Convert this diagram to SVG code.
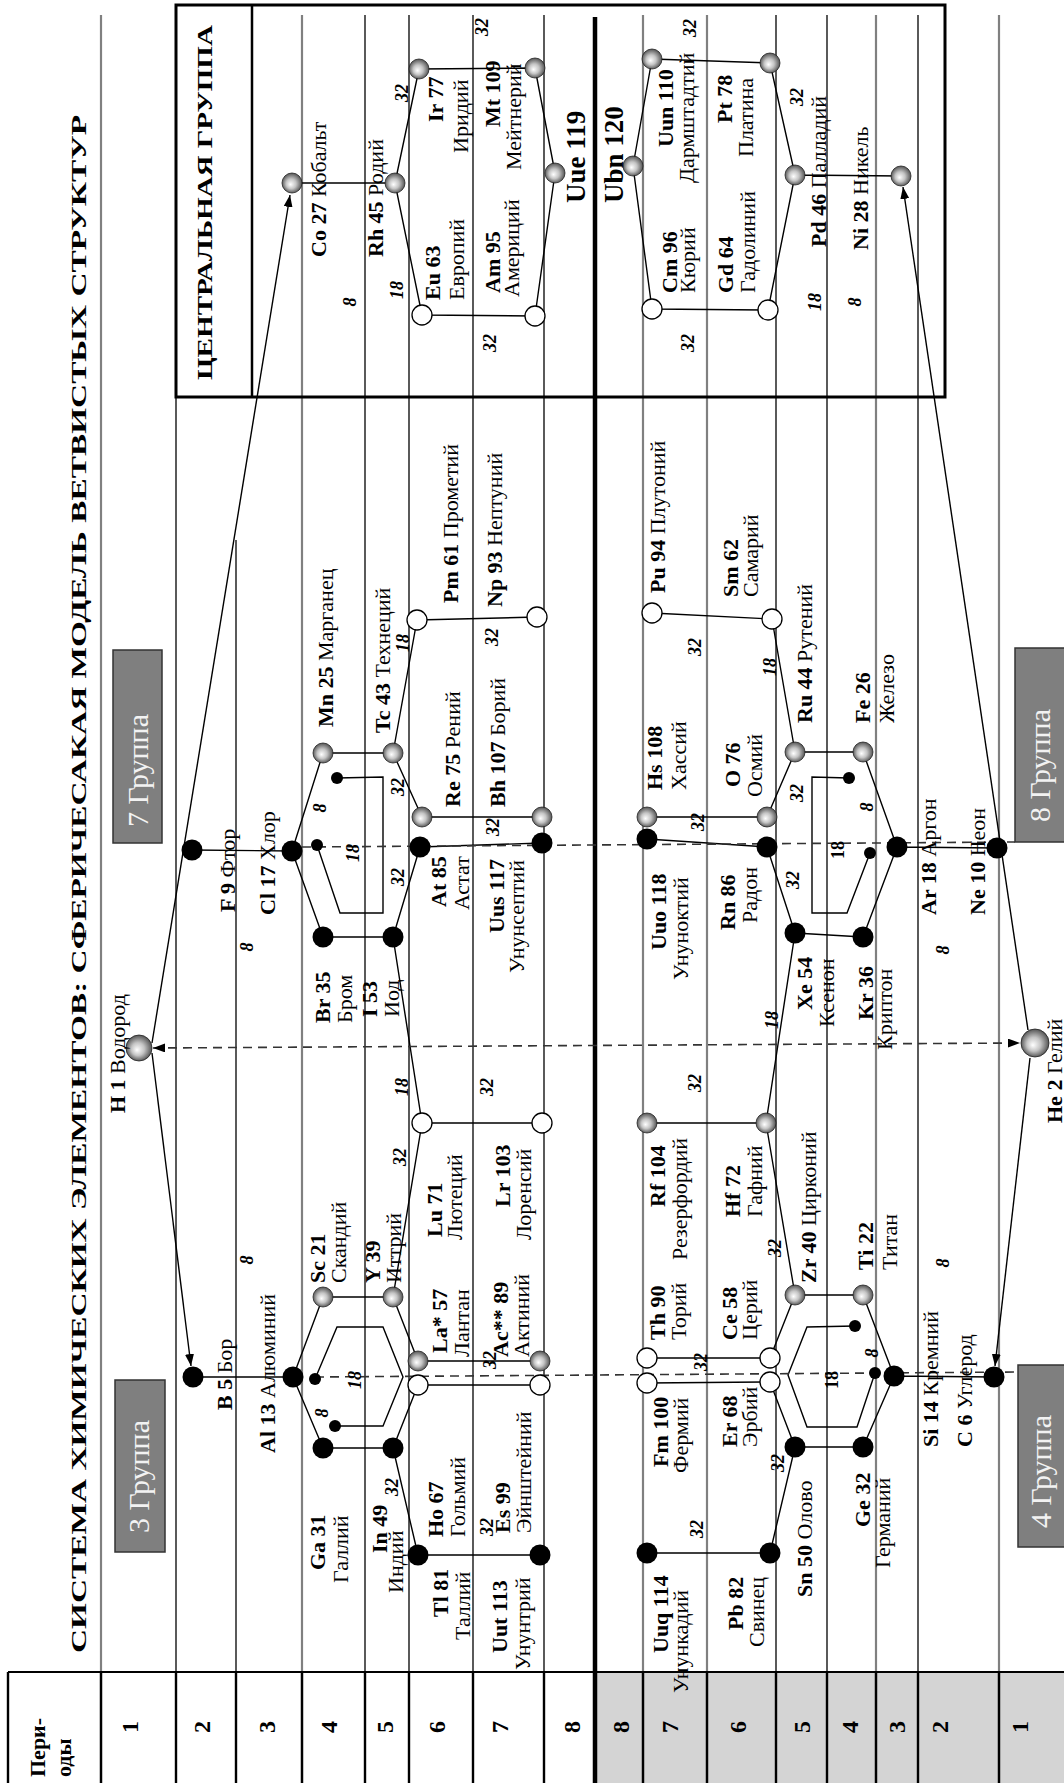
<svg xmlns="http://www.w3.org/2000/svg" width="1064" height="1783" viewBox="0 0 1064 1783">
<defs>
<radialGradient id="sph" cx="0.5" cy="0.5" r="0.55" fx="0.42" fy="0.42">
<stop offset="0" stop-color="#ffffff"/><stop offset="0.45" stop-color="#c4c4c4"/><stop offset="1" stop-color="#404040"/>
</radialGradient>
<marker id="ah" viewBox="0 0 12 9" refX="12" refY="4.5" markerWidth="12" markerHeight="9" markerUnits="userSpaceOnUse" orient="auto-start-reverse"><path d="M0,0 L12,4.5 L0,9 z" fill="#000"/></marker>
<style>
.gl{stroke:#808080;stroke-width:2.2}
.bl{stroke:#000;stroke-width:1.3}
.tl{stroke:#000;stroke-width:2.4}
.c{stroke:#000;stroke-width:1.4;fill:none}
.d{stroke:#333;stroke-width:1.6;stroke-dasharray:9 6;fill:none}
.sg{fill:url(#sph);stroke:#222;stroke-width:0.8}
.sw{fill:#fff;stroke:#000;stroke-width:1.3}
.sb{fill:#000}
.t{font-family:"Liberation Serif","Times New Roman",serif;font-size:22px;fill:#000}
.b{font-weight:bold}
.big{font-size:27px;font-weight:bold}
.n{font-family:"Liberation Serif",serif;font-size:18px;font-weight:bold;font-style:italic;text-anchor:middle}
.nu{font-style:normal}
.p{font-family:"Liberation Serif",serif;font-size:24px;font-weight:bold;text-anchor:middle}
.grp{font-family:"Liberation Serif",serif;font-size:30px;fill:#f2f2f2}
.gb{fill:#7f7f7f;stroke:#333;stroke-width:1.5}
</style>
</defs>
<rect width="1064" height="1783" fill="#fff"/>
<g transform="matrix(0,-1,1,0,0,1783)">
<rect x="0" y="595" width="111" height="469" fill="#d4d4d4"/>
<g id="grid">
<line class="gl" x1="0" y1="101" x2="1768" y2="101"/>
<line class="bl" x1="0" y1="176" x2="1768" y2="176"/>
<line class="bl" x1="0" y1="236" x2="1243" y2="236"/>
<line class="gl" x1="0" y1="302" x2="1768" y2="302"/>
<line class="bl" x1="0" y1="365" x2="1768" y2="365"/>
<line class="bl" x1="0" y1="409" x2="1768" y2="409"/>
<line class="bl" x1="0" y1="473" x2="1768" y2="473"/>
<line class="bl" x1="0" y1="544" x2="1768" y2="544"/>
<line stroke="#000" stroke-width="4.5" x1="0" y1="595" x2="1766" y2="595"/>
<line class="gl" x1="0" y1="643" x2="1768" y2="643"/>
<line class="gl" x1="0" y1="707" x2="1768" y2="707"/>
<line class="bl" x1="0" y1="776" x2="1768" y2="776"/>
<line class="bl" x1="0" y1="827" x2="1768" y2="827"/>
<line class="gl" x1="0" y1="876" x2="1768" y2="876"/>
<line class="bl" x1="0" y1="918" x2="1768" y2="918"/>
<line class="gl" x1="0" y1="999" x2="1768" y2="999"/>
<path class="tl" d="M0,8H111M0,101H111M0,176H111M0,236H111M0,302H111M0,365H111M0,409H111M0,473H111M0,544H111M0,643H111M0,707H111M0,776H111M0,827H111M0,876H111M0,918H111M0,999H111"/>
<line stroke="#000" stroke-width="2" x1="111" y1="8" x2="111" y2="1064"/>
<rect x="1386" y="176" width="392" height="769" fill="none" stroke="#000" stroke-width="3"/>
<line stroke="#000" stroke-width="2.5" x1="1386" y1="252" x2="1778" y2="252"/>
</g>
<g id="table-labels">
<text class="t b" font-size="27" x="6" y="45">Пери-</text>
<text class="t b" font-size="27" x="6" y="71">оды</text>
<text class="p" x="56" y="138">1</text>
<text class="p" x="56" y="210">2</text>
<text class="p" x="56" y="275">3</text>
<text class="p" x="56" y="337">4</text>
<text class="p" x="56" y="393">5</text>
<text class="p" x="56" y="445">6</text>
<text class="p" x="56" y="508">7</text>
<text class="p" x="56" y="580">8</text>
<text class="p" x="56" y="629">8</text>
<text class="p" x="56" y="678">7</text>
<text class="p" x="56" y="746">6</text>
<text class="p" x="56" y="810">5</text>
<text class="p" x="56" y="858">4</text>
<text class="p" x="56" y="905">3</text>
<text class="p" x="56" y="948">2</text>
<text class="p" x="56" y="1028">1</text>
</g>
<text id="title" class="t b" font-size="33" x="130" y="86" textLength="1538" lengthAdjust="spacingAndGlyphs">СИСТЕМА ХИМИЧЕСКИХ ЭЛЕМЕНТОВ: СФЕРИЧЕСАКАЯ МОДЕЛЬ ВЕТВИСТЫХ СТРУКТУР</text>
<text id="central-title" class="t b" font-size="27" x="1403" y="212" textLength="355" lengthAdjust="spacingAndGlyphs">ЦЕНТРАЛЬНАЯ ГРУППА</text>
<g id="group7-box"><rect class="gb" x="940" y="113" width="193" height="49"/><text class="grp" x="956" y="148">7 Группа</text></g>
<g id="group3-box"><rect class="gb" x="231" y="115" width="172" height="50"/><text class="grp" x="250" y="149">3 Группа</text></g>
<g id="group8-box"><rect class="gb" x="941" y="1015" width="194" height="60"/><text class="grp" x="961" y="1050">8 Группа</text></g>
<g id="group4-box"><rect class="gb" x="236" y="1018" width="182" height="60"/><text class="grp" x="255" y="1051">4 Группа</text></g>
<g id="inner-shapes">
<polyline class="c" fill="#fff" points="938,317 870,340 870,383 1006,383 1005,337"/>
<polyline class="c" fill="#fff" points="1005,849 1006,812 870,812 870,847 930,870"/>
<polyline class="c" fill="#fff" points="404,315 456,337 456,383 406,403 357,383 357,335"/>
<polyline class="c" fill="#fff" points="457,855 456,807 408,788 356,807 356,857 410,875"/>
</g>
<g id="connectors">
<path class="c" d="M1600,292L1600,395M1600,395L1714,419M1600,395L1468,422M1714,419L1715,535M1468,422L1467,535M1715,535L1610,555M1467,535L1610,555M1617,633L1724,652M1617,633L1474,652M1724,652L1720,770M1474,652L1473,768M1720,770L1608,795M1473,768L1608,795M1608,795L1607,901"/>
<path class="c" d="M933,192L932,292M932,292L1030,323M932,292L846,323M1030,323L1030,393M846,323L846,393M1030,393L1163,417M1030,393L966,422M846,393L936,420M846,393L660,422M1163,417L1166,537M966,422L966,542M936,420L940,542"/>
<path class="c" d="M1170,652L1164,772M966,647L966,767M944,647L936,767M1164,772L1031,795M966,767L1031,795M1031,795L1031,863M1031,863L936,897M936,767L850,795M850,795L846,863M846,863L936,897M850,795L660,766M936,897L935,997"/>
<path class="c" d="M406,193L406,293M406,293L486,323M406,293L335,323M486,323L486,393M335,323L335,393M486,393L660,422M486,393L422,418M335,393L398,418M335,393L228,418M660,422L660,542M422,418L422,540M398,418L398,540M228,418L228,540"/>
<path class="c" d="M660,647L660,766M425,647L425,770M400,647L401,770M230,647L230,770M660,766L488,795M488,795L425,770M488,795L488,863M488,863L407,894M336,795L401,770M336,795L230,770M336,795L336,863M336,863L407,894M407,894L406,994"/>
<line class="d" x1="936" y1="302" x2="941" y2="1015"/>
<line class="d" x1="406" y1="315" x2="411" y2="1018"/>
<line class="d" x1="735" y1="153" x2="740" y2="1020" marker-start="url(#ah)" marker-end="url(#ah)"/>
<line class="c" x1="740" y1="152" x2="1588" y2="290" marker-end="url(#ah)"/>
<line class="c" x1="730" y1="152" x2="417" y2="191" marker-end="url(#ah)"/>
<line class="c" x1="753" y1="1028" x2="1596" y2="903" marker-end="url(#ah)"/>
<line class="c" x1="725" y1="1030" x2="417" y2="995" marker-end="url(#ah)"/>
</g>
<g id="H1"><circle class="sg" cx="735" cy="139" r="13"/><text class="t" x="670" y="125"><tspan class="b">H 1</tspan> Водород</text></g>
<g id="He2"><circle class="sg" cx="740" cy="1035" r="14"/><text class="t" x="660" y="1062"><tspan class="b">He 2</tspan> Гелий</text></g>
<g id="Co27"><circle class="sg" cx="1600" cy="292" r="10"/><text class="t" x="1526" y="326"><tspan class="b">Co 27</tspan> Кобальт</text></g>
<g id="Rh45"><circle class="sg" cx="1600" cy="395" r="10"/><text class="t" x="1526" y="383"><tspan class="b">Rh 45</tspan> Родий</text></g>
<g id="Ir77"><circle class="sg" cx="1714" cy="419" r="10"/><text class="t b" x="1661" y="443">Ir 77</text><text class="t" x="1630" y="468">Иридий</text></g>
<g id="Mt109"><circle class="sg" cx="1715" cy="535" r="10"/><text class="t b" x="1656" y="500">Mt 109</text><text class="t" x="1613" y="521">Мейтнерий</text></g>
<g id="Eu63"><circle class="sw" cx="1468" cy="422" r="10"/><text class="t b" x="1483" y="440">Eu 63</text><text class="t" x="1483" y="464">Европий</text></g>
<g id="Am95"><circle class="sw" cx="1467" cy="535" r="10"/><text class="t b" x="1490" y="500">Am 95</text><text class="t" x="1486" y="519">Америций</text></g>
<g id="Uue119"><circle class="sg" cx="1610" cy="555" r="10"/><text class="t big" x="1580" y="585">Uue 119</text></g>
<g id="Ubn120"><circle class="sg" cx="1617" cy="633" r="10"/><text class="t big" x="1580" y="623">Ubn 120</text></g>
<g id="Uun110"><circle class="sg" cx="1724" cy="652" r="10"/><text class="t b" x="1636" y="673">Uun 110</text><text class="t" x="1600" y="694">Дармштадтий</text></g>
<g id="Cm96"><circle class="sw" cx="1474" cy="652" r="10"/><text class="t b" x="1490" y="677">Cm 96</text><text class="t" x="1490" y="695">Кюрий</text></g>
<g id="Pt78"><circle class="sg" cx="1720" cy="770" r="10"/><text class="t b" x="1660" y="732">Pt 78</text><text class="t" x="1626" y="753">Платина</text></g>
<g id="Gd64"><circle class="sw" cx="1473" cy="768" r="10"/><text class="t b" x="1490" y="733">Gd 64</text><text class="t" x="1490" y="755">Гадолиний</text></g>
<g id="Pd46"><circle class="sg" cx="1608" cy="795" r="10"/><text class="t" x="1536" y="826"><tspan class="b">Pd 46</tspan> Палладий</text></g>
<g id="Ni28"><circle class="sg" cx="1607" cy="901" r="10"/><text class="t" x="1533" y="868"><tspan class="b">Ni 28</tspan> Никель</text></g>
<g id="F9"><circle class="sb" cx="933" cy="192" r="10.5"/><text class="t" x="871" y="235"><tspan class="b">F 9</tspan> Фтор</text></g>
<g id="Cl17"><circle class="sb" cx="932" cy="292" r="10.5"/><text class="t" x="868" y="275"><tspan class="b">Cl 17</tspan> Хлор</text></g>
<g id="Mn25"><circle class="sg" cx="1030" cy="323" r="10"/><text class="t" x="1056" y="333"><tspan class="b">Mn 25</tspan> Марганец</text></g>
<g id="Br35"><circle class="sb" cx="846" cy="323" r="10.5"/><text class="t b" x="760" y="330">Br 35</text><text class="t" x="760" y="352">Бром</text></g>
<g id="Tc43"><circle class="sg" cx="1030" cy="393" r="10"/><text class="t" x="1050" y="390"><tspan class="b">Tc 43</tspan> Технеций</text></g>
<g id="I53"><circle class="sb" cx="846" cy="393" r="10.5"/><text class="t b" x="766" y="377">I 53</text><text class="t" x="766" y="399">Иод</text></g>
<g id="Pm61"><circle class="sw" cx="1163" cy="417" r="10"/><text class="t" x="1180" y="458"><tspan class="b">Pm 61</tspan> Прометий</text></g>
<g id="Re75"><circle class="sg" cx="966" cy="422" r="10"/><text class="t" x="976" y="460"><tspan class="b">Re 75</tspan> Рений</text></g>
<g id="At85"><circle class="sb" cx="936" cy="420" r="10.5"/><text class="t b" x="876" y="446">At 85</text><text class="t" x="873" y="469">Астат</text></g>
<g id="Np93"><circle class="sw" cx="1166" cy="537" r="10"/><text class="t" x="1176" y="502"><tspan class="b">Np 93</tspan> Нептуний</text></g>
<g id="Bh107"><circle class="sg" cx="966" cy="542" r="10"/><text class="t" x="976" y="505"><tspan class="b">Bh 107</tspan> Борий</text></g>
<g id="Uus117"><circle class="sb" cx="940" cy="542" r="10.5"/><text class="t b" x="850" y="504">Uus 117</text><text class="t" x="810" y="524">Унунсептий</text></g>
<g id="Pu94"><circle class="sw" cx="1170" cy="652" r="10"/><text class="t" x="1190" y="665"><tspan class="b">Pu 94</tspan> Плутоний</text></g>
<g id="Hs108"><circle class="sg" cx="966" cy="647" r="10"/><text class="t b" x="993" y="662">Hs 108</text><text class="t" x="993" y="686">Хассий</text></g>
<g id="Uuo118"><circle class="sb" cx="944" cy="647" r="10.5"/><text class="t b" x="833" y="666">Uuo 118</text><text class="t" x="803" y="688">Унуноктий</text></g>
<g id="Sm62"><circle class="sw" cx="1164" cy="772" r="10"/><text class="t b" x="1186" y="738">Sm 62</text><text class="t" x="1186" y="758">Самарий</text></g>
<g id="O76"><circle class="sg" cx="966" cy="767" r="10"/><text class="t b" x="996" y="740">O 76</text><text class="t" x="986" y="762">Осмий</text></g>
<g id="Rn86"><circle class="sb" cx="936" cy="767" r="10.5"/><text class="t b" x="853" y="735">Rn 86</text><text class="t" x="860" y="757">Радон</text></g>
<g id="Ru44"><circle class="sg" cx="1031" cy="795" r="10"/><text class="t" x="1060" y="812"><tspan class="b">Ru 44</tspan> Рутений</text></g>
<g id="Fe26"><circle class="sg" cx="1031" cy="863" r="10"/><text class="t b" x="1060" y="870">Fe 26</text><text class="t" x="1060" y="894">Железо</text></g>
<g id="Xe54"><circle class="sb" cx="850" cy="795" r="10.5"/><text class="t b" x="773" y="812">Xe 54</text><text class="t" x="756" y="834">Ксенон</text></g>
<g id="Kr36"><circle class="sb" cx="846" cy="863" r="10.5"/><text class="t b" x="763" y="873">Kr 36</text><text class="t" x="733" y="892">Криптон</text></g>
<g id="Ar18"><circle class="sb" cx="936" cy="897" r="10.5"/><text class="t" x="868" y="936"><tspan class="b">Ar 18</tspan> Аргон</text></g>
<g id="Ne10"><circle class="sb" cx="935" cy="997" r="10.5"/><text class="t" x="868" y="985"><tspan class="b">Ne 10</tspan> Неон</text></g>
<g id="B5"><circle class="sb" cx="406" cy="193" r="10.5"/><text class="t" x="373" y="232"><tspan class="b">B 5</tspan> Бор</text></g>
<g id="Al13"><circle class="sb" cx="406" cy="293" r="10.5"/><text class="t" x="330" y="275"><tspan class="b">Al 13</tspan> Алюминий</text></g>
<g id="Sc21"><circle class="sg" cx="486" cy="323" r="10"/><text class="t b" x="500" y="325">Sc 21</text><text class="t" x="500" y="346">Скандий</text></g>
<g id="Ga31"><circle class="sb" cx="335" cy="323" r="10.5"/><text class="t b" x="213" y="325">Ga 31</text><text class="t" x="200" y="348">Галлий</text></g>
<g id="Y39"><circle class="sg" cx="486" cy="393" r="10"/><text class="t b" x="500" y="380">Y 39</text><text class="t" x="500" y="401">Иттрий</text></g>
<g id="In49"><circle class="sb" cx="335" cy="393" r="10.5"/><text class="t b" x="230" y="387">In 49</text><text class="t" x="190" y="403">Индий</text></g>
<g id="Lu71"><circle class="sw" cx="660" cy="422" r="10"/><text class="t b" x="546" y="442">Lu 71</text><text class="t" x="543" y="462">Лютеций</text></g>
<g id="Lr103"><circle class="sw" cx="660" cy="542" r="10"/><text class="t b" x="576" y="510">Lr 103</text><text class="t" x="543" y="531">Лоренсий</text></g>
<g id="La57"><circle class="sg" cx="422" cy="418" r="10"/><text class="t b" x="430" y="447">La* 57</text><text class="t" x="426" y="469">Лантан</text></g>
<g id="Ac89"><circle class="sg" cx="422" cy="540" r="10"/><text class="t b" x="426" y="508">Ac** 89</text><text class="t" x="426" y="529">Актиний</text></g>
<g id="Ho67"><circle class="sw" cx="398" cy="418" r="10"/><text class="t b" x="246" y="443">Ho 67</text><text class="t" x="246" y="465">Гольмий</text></g>
<g id="Es99"><circle class="sw" cx="398" cy="540" r="10"/><text class="t b" x="250" y="510">Es 99</text><text class="t" x="250" y="531">Эйнштейний</text></g>
<g id="Tl81"><circle class="sb" cx="228" cy="418" r="10.5"/><text class="t b" x="166" y="448">Tl 81</text><text class="t" x="143" y="470">Таллий</text></g>
<g id="Uut113"><circle class="sb" cx="228" cy="540" r="10.5"/><text class="t b" x="130" y="507">Uut 113</text><text class="t" x="113" y="530">Унунтрий</text></g>
<g id="Rf104"><circle class="sg" cx="660" cy="647" r="10"/><text class="t b" x="576" y="665">Rf 104</text><text class="t" x="523" y="687">Резерфордий</text></g>
<g id="Hf72"><circle class="sg" cx="660" cy="766" r="10"/><text class="t b" x="566" y="740">Hf 72</text><text class="t" x="566" y="762">Гафний</text></g>
<g id="Th90"><circle class="sw" cx="425" cy="647" r="10"/><text class="t b" x="443" y="665">Th 90</text><text class="t" x="443" y="686">Торий</text></g>
<g id="Ce58"><circle class="sw" cx="425" cy="770" r="10"/><text class="t b" x="443" y="737">Ce 58</text><text class="t" x="443" y="757">Церий</text></g>
<g id="Fm100"><circle class="sw" cx="400" cy="647" r="10"/><text class="t b" x="316" y="668">Fm 100</text><text class="t" x="310" y="688">Фермий</text></g>
<g id="Er68"><circle class="sw" cx="401" cy="770" r="10"/><text class="t b" x="336" y="737">Er 68</text><text class="t" x="336" y="757">Эрбий</text></g>
<g id="Uuq114"><circle class="sb" cx="230" cy="647" r="10.5"/><text class="t b" x="130" y="668">Uuq 114</text><text class="t" x="90" y="688">Унункадий</text></g>
<g id="Pb82"><circle class="sb" cx="230" cy="770" r="10.5"/><text class="t b" x="153" y="743">Pb 82</text><text class="t" x="136" y="764">Свинец</text></g>
<g id="Zr40"><circle class="sg" cx="488" cy="795" r="10"/><text class="t" x="500" y="816"><tspan class="b">Zr 40</tspan> Цирконий</text></g>
<g id="Ti22"><circle class="sg" cx="488" cy="863" r="10"/><text class="t b" x="513" y="873">Ti 22</text><text class="t" x="513" y="897">Титан</text></g>
<g id="Sn50"><circle class="sb" cx="336" cy="795" r="10.5"/><text class="t" x="186" y="812"><tspan class="b">Sn 50</tspan> Олово</text></g>
<g id="Ge32"><circle class="sb" cx="336" cy="863" r="10.5"/><text class="t b" x="256" y="870">Ge 32</text><text class="t" x="215" y="890">Германий</text></g>
<g id="Si14"><circle class="sb" cx="407" cy="894" r="10.5"/><text class="t" x="336" y="938"><tspan class="b">Si 14</tspan> Кремний</text></g>
<g id="C6"><circle class="sb" cx="406" cy="994" r="10.5"/><text class="t" x="336" y="972"><tspan class="b">C 6</tspan> Углерод</text></g>
<g id="dots">
<circle class="sb" cx="1005" cy="337" r="6"/><circle class="sb" cx="938" cy="317" r="6"/>
<circle class="sb" cx="1005" cy="849" r="6"/><circle class="sb" cx="930" cy="870" r="6"/>
<circle class="sb" cx="404" cy="315" r="6"/><circle class="sb" cx="357" cy="335" r="6"/>
<circle class="sb" cx="457" cy="855" r="6"/><circle class="sb" cx="410" cy="875" r="6"/>
</g>
<g id="shell-numbers">
<text class="n" x="1481" y="356">8</text><text class="n" x="1493" y="403">18</text><text class="n" x="1690" y="408">32</text>
<text class="n" x="1756" y="488">32</text><text class="n" x="1440" y="496">32</text><text class="n" x="1755" y="696">32</text>
<text class="n" x="1440" y="694">32</text><text class="n" x="1686" y="803">32</text><text class="n" x="1481" y="821">18</text>
<text class="n" x="1481" y="861">8</text>
<text class="n" x="975" y="326">8</text><text class="n" x="930" y="359">18</text><text class="n" x="1140" y="409">18</text>
<text class="n" x="996" y="404">32</text><text class="n" x="906" y="404">32</text><text class="n" x="1146" y="498">32</text>
<text class="n" x="956" y="499">32</text><text class="n" x="836" y="253">8</text>
<text class="n" x="1136" y="701">32</text><text class="n" x="1116" y="776">18</text><text class="n" x="961" y="704">32</text>
<text class="n" x="990" y="803">32</text><text class="n" x="976" y="873">8</text><text class="n nu" x="933" y="844">18</text>
<text class="n" x="903" y="799">32</text><text class="n" x="763" y="778">18</text><text class="n" x="833" y="949">8</text>
<text class="n" x="523" y="253">8</text><text class="n" x="370" y="328">8</text><text class="n" x="403" y="361">18</text>
<text class="n" x="626" y="406">32</text><text class="n" x="696" y="408">18</text><text class="n" x="696" y="493">32</text>
<text class="n" x="423" y="496">32</text><text class="n" x="296" y="398">32</text><text class="n" x="256" y="493">32</text>
<text class="n" x="700" y="701">32</text><text class="n" x="535" y="781">32</text><text class="n" x="520" y="949">8</text>
<text class="n" x="421" y="707">32</text><text class="n" x="320" y="784">32</text><text class="n" x="254" y="703">32</text>
<text class="n nu" x="403" y="838">18</text><text class="n" x="430" y="878">8</text>
</g>
</g>
</svg>
